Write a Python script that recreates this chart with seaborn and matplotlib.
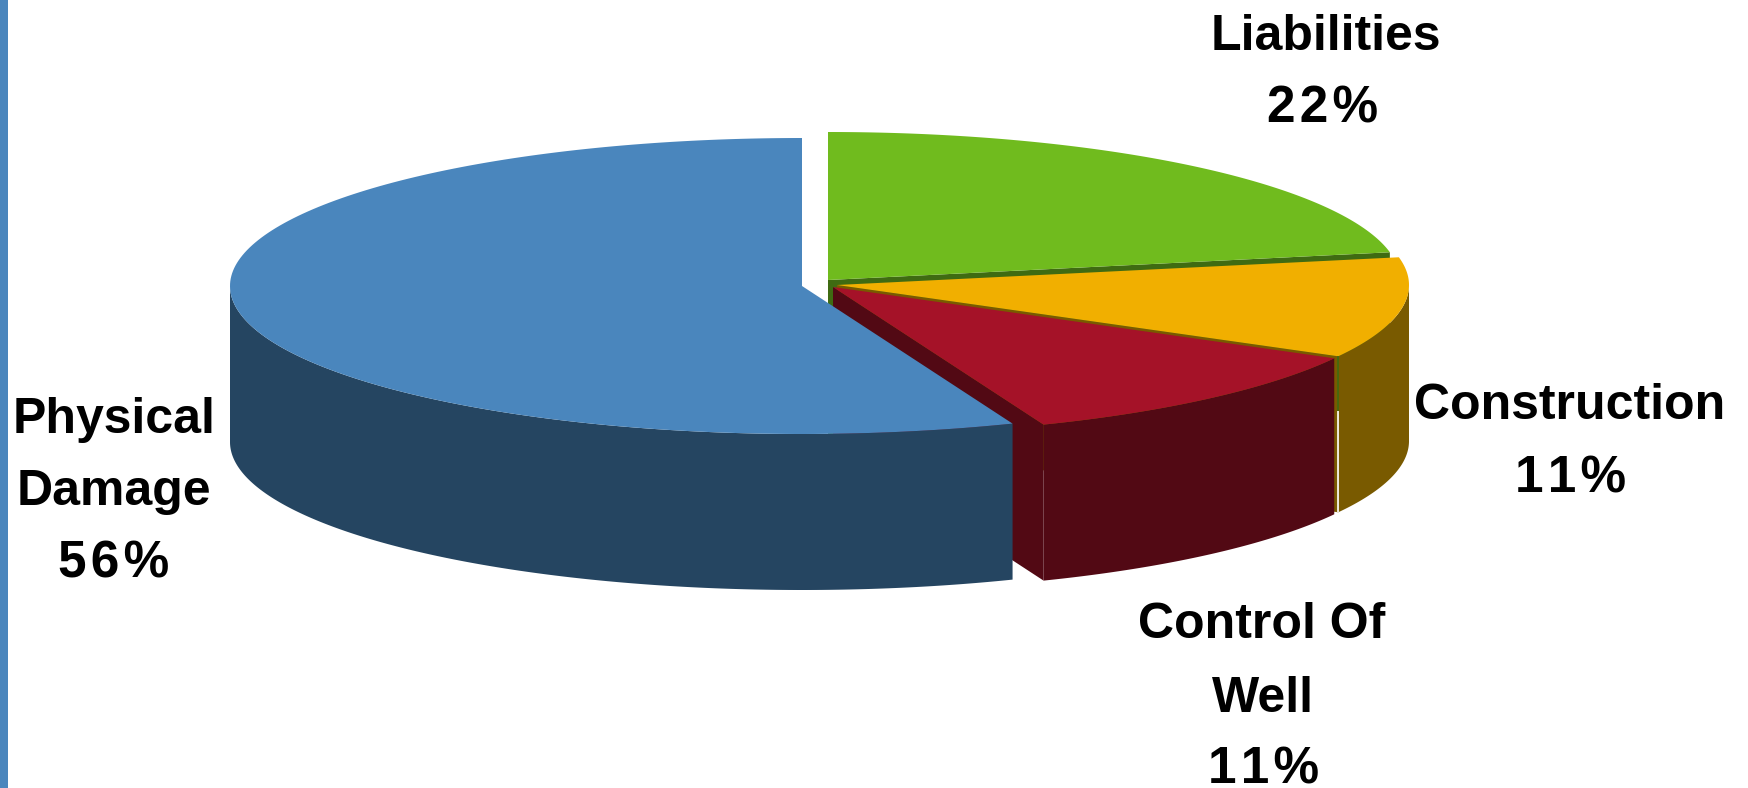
# plot.py
# Exploded 3D style pie of claim types, drawn as projected polygons on a pixel sized axes

import numpy as np
import matplotlib
matplotlib.use("Agg")
import matplotlib.pyplot as plt
import seaborn as sns

# Data, clockwise from 12 o'clock
categories = ["Liabilities", "Construction", "Control Of\nWell", "Physical\nDamage"]
shares = [22, 11, 11, 56]

# Colours per slice
top_colors = sns.color_palette(["#70BB1E", "#F1AF00", "#A51228", "#4A86BD"])
side_colors = sns.color_palette(["#3F6B12", "#795A00", "#520914", "#254561"])

# Layout, in image pixels
rx, ry, depth = 572, 148, 156
centers = [(828, 280), (837, 285), (833, 287), (802, 286)]
label_pos = [
    ([1326, 1323], [50, 122]),
    ([1570, 1571], [419, 492]),
    ([1262, 1263, 1264], [638, 712, 783]),
    ([114, 114, 114], [433, 505, 578]),
]

sns.set_theme(style="white")
plt.rcParams["font.family"] = ["Liberation Sans", "DejaVu Sans"]


def arc(center, a0, a1, n=200):
    t = np.radians(np.linspace(a0, a1, n))
    return center[0] + rx * np.cos(t), center[1] - ry * np.sin(t)


fig = plt.figure(figsize=(17.48, 7.88), dpi=100)
ax = fig.add_axes([0, 0, 1, 1])
ax.set_xlim(0, 1748)
ax.set_ylim(788, 0)
ax.axis("off")

# Band down the left side of the slide
ax.axvspan(0, 8, color="#4A86BD", lw=0)

# Back slices first, so the front ones paint over them
angles = 90 - np.cumsum([0] + shares) * 3.6
for i in range(len(shares)):
    c = centers[i]
    a0, a1 = angles[i], angles[i + 1]

    # cut face along the trailing edge
    ex, ey = arc(c, a1, a1, 1)
    ax.fill([c[0], ex[0], ex[0], c[0]], [c[1], ey[0], ey[0] + depth, c[1] + depth],
            color=side_colors[i], lw=0)

    # outer wall, only the part of the rim facing the viewer
    lo, hi = max(a1, -180), min(a0, 0)
    if hi > lo:
        wx, wy = arc(c, lo, hi)
        ax.fill(np.r_[wx, wx[::-1]], np.r_[wy, wy[::-1] + depth], color=side_colors[i], lw=0)

    # top
    tx, ty = arc(c, a0, a1)
    ax.fill(np.r_[c[0], tx], np.r_[c[1], ty], color=top_colors[i], lw=0)

# Thin seam at the front edge of the construction slice, green above and white below
sx, sy = arc(centers[1], angles[2], angles[2], 1)
ax.plot([sx[0], sx[0]], [sy[0], sy[0] + 55], color=side_colors[0], lw=1.2, solid_capstyle="butt")
ax.plot([sx[0], sx[0]], [sy[0] + 55, sy[0] + depth], color="white", lw=1.2, solid_capstyle="butt")

# Labels, one text per line; the percentages are a little letterspaced
for name, share, (xs, ys) in zip(categories, shares, label_pos):
    name_lines = name.split("\n")
    lines = name_lines + ["\u200a".join(f"{share}%")]
    for j, (line, x, y) in enumerate(zip(lines, xs, ys)):
        size = 37 if j == len(name_lines) else 36
        ax.text(x, y, line, ha="center", va="baseline", fontsize=size, fontweight="bold", color="black")

fig.savefig("out.png", dpi=100)
plt.close(fig)
